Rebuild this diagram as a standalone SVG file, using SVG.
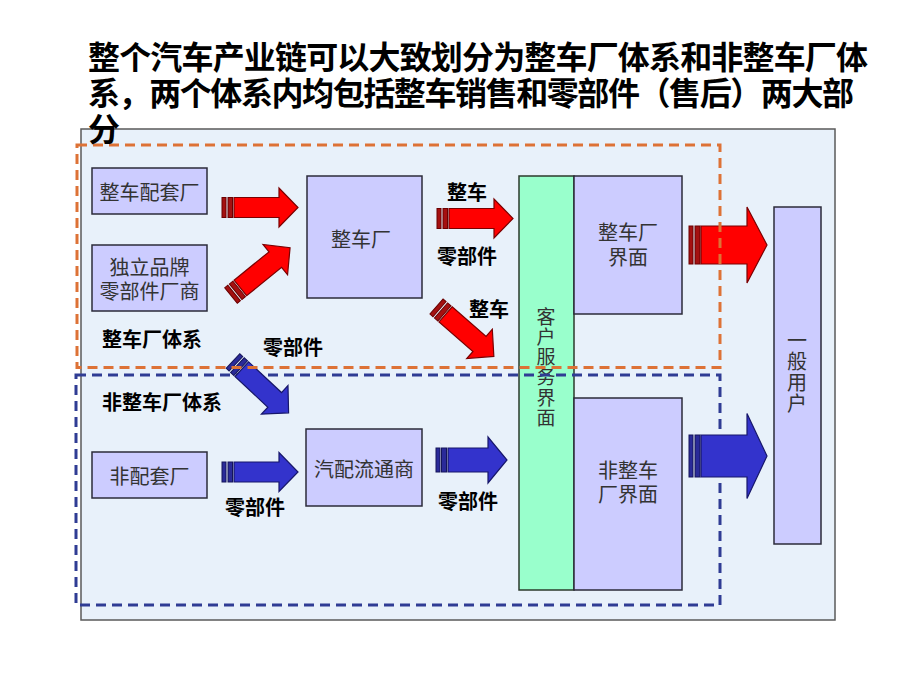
<svg xmlns="http://www.w3.org/2000/svg" xmlns:xlink="http://www.w3.org/1999/xlink" width="920" height="690" viewBox="0 0 920 690">
<style>
.panel{fill:#E8F1FA;stroke:#5a5a5a;stroke-width:1.5}
.box{fill:#CCCCFF;stroke:#2b2b3a;stroke-width:1.5}
.green{fill:#99FFCC;stroke:#2b3a2b;stroke-width:1.5}
.nt{font-family:"Noto Sans CJK SC","Noto Sans",sans-serif;font-size:20px;fill:#333;text-anchor:middle}
.vt{font-family:"Noto Sans CJK SC","Noto Sans",sans-serif;font-size:19px;fill:#333;writing-mode:vertical-rl;letter-spacing:1.2px}
.lb{font-family:"Noto Sans CJK SC","Noto Sans",sans-serif;font-size:20px;font-weight:bold;fill:#000;text-anchor:middle}
.title{font-family:"Noto Sans CJK SC","Noto Sans",sans-serif;font-size:32px;font-weight:bold;fill:#000}
.rb{fill:#FF0000;stroke:#7a0000;stroke-width:1.2}
.rs{fill:#A51010;stroke:#6B0000;stroke-width:1}
.bb{fill:#3333CC;stroke:#17176a;stroke-width:1.2}
.bs{fill:#2A2A99;stroke:#15155A;stroke-width:1}
.dsO{fill:none;stroke:#DD7236;stroke-width:3;stroke-dasharray:10 6}
.dsB{fill:none;stroke:#2F3C94;stroke-width:3;stroke-dasharray:10 6}
</style>
<defs>
<g id="redS">
<rect class="rs" x="0" y="-10" width="4" height="20"/>
<rect class="rs" x="6" y="-10" width="4.5" height="20"/>
<polygon class="rb" points="12,-10 57,-10 57,-19.5 76,0 57,19.5 57,10 12,10"/>
</g>
<g id="blueS">
<rect class="bs" x="0" y="-10" width="4" height="20"/>
<rect class="bs" x="6" y="-10" width="4.5" height="20"/>
<polygon class="bb" points="12,-10 57,-10 57,-19.5 76,0 57,19.5 57,10 12,10"/>
</g>
</defs>

<rect class="panel" x="81" y="129" width="754" height="491"/>

<g id="node-zcpt"><rect class="box" x="92" y="168" width="115" height="46"/><text class="nt" x="149.5" y="200">整车配套厂</text></g>
<g id="node-dlpp"><rect class="box" x="92" y="245" width="115" height="66"/><text class="nt" x="149.5" y="275">独立品牌<tspan x="149.5" dy="24">零部件厂商</tspan></text></g>
<g id="node-zcc"><rect class="box" x="307" y="176" width="115" height="122"/><text class="nt" x="361" y="247">整车厂</text></g>
<g id="node-khfw"><rect class="green" x="519" y="176" width="55" height="414"/>
<text class="vt" x="546" y="307">客户服务界面</text></g>
<g id="node-zccjm"><rect class="box" x="574" y="176" width="108" height="138"/><text class="nt" x="628" y="240">整车厂<tspan x="628" dy="25">界面</tspan></text></g>
<g id="node-fzccjm"><rect class="box" x="574" y="398" width="108" height="192"/><text class="nt" x="628" y="478">非整车<tspan x="628" dy="24">厂界面</tspan></text></g>
<g id="node-ybyh"><rect class="box" x="774" y="207" width="47" height="337"/>
<text class="vt" x="797" y="330" style="font-size:20px;letter-spacing:1px">一般用户</text></g>
<g id="node-fptc"><rect class="box" x="92" y="452" width="115" height="46"/><text class="nt" x="149.5" y="484">非配套厂</text></g>
<g id="node-qpltc"><rect class="box" x="306" y="429" width="116" height="77"/><text class="nt" x="364" y="477">汽配流通商</text></g>

<g id="group-fzcc"><rect class="dsB" x="76" y="375" width="644" height="230"/></g>

<g id="connectors">
<use xlink:href="#redS" transform="translate(222,207.5)"/>
<use xlink:href="#redS" transform="translate(231,295.5) rotate(-39)"/>
<use xlink:href="#redS" transform="translate(437,218.5)"/>
<use xlink:href="#redS" transform="translate(436.5,306.5) rotate(41)"/>
<use xlink:href="#blueS" transform="translate(233,361) rotate(43)"/>
<use xlink:href="#blueS" transform="translate(222,472)"/>
<g transform="translate(436,460)">
<rect class="bs" x="0" y="-12" width="4" height="24"/>
<rect class="bs" x="5.5" y="-12" width="5" height="24"/>
<polygon class="bb" points="12,-12 52,-12 52,-23 71,0 52,23 52,12 12,12"/>
</g>
<g transform="translate(689,245)">
<rect class="rs" x="0" y="-19" width="4" height="38"/>
<rect class="rs" x="6" y="-19" width="5" height="38"/>
<polygon class="rb" points="12,-19 58,-19 58,-38 78,0 58,38 58,19 12,19"/>
</g>
<g transform="translate(689,456)">
<rect class="bs" x="0" y="-21" width="4" height="42"/>
<rect class="bs" x="6" y="-21" width="5" height="42"/>
<polygon class="bb" points="12,-21 58,-21 58,-42.5 78,0 58,42.5 58,21 12,21"/>
</g>
</g>

<g id="group-zcc"><rect class="dsO" x="77" y="145" width="643" height="222.5"/></g>

<g id="labels">
<text class="lb" x="467" y="200">整车</text>
<text class="lb" x="467" y="264">零部件</text>
<text class="lb" x="489" y="317">整车</text>
<text class="lb" x="293" y="355">零部件</text>
<text class="lb" x="152" y="347">整车厂体系</text>
<text class="lb" x="162" y="410">非整车厂体系</text>
<text class="lb" x="255" y="515">零部件</text>
<text class="lb" x="468" y="509">零部件</text>
</g>

<g id="title">
<text class="title" x="88" y="69" textLength="780" lengthAdjust="spacing">整个汽车产业链可以大致划分为整车厂体系和非整车厂体</text>
<text class="title" x="88" y="105" textLength="766" lengthAdjust="spacing">系，两个体系内均包括整车销售和零部件（售后）两大部</text>
<text class="title" x="88" y="141">分</text>
</g>
</svg>
